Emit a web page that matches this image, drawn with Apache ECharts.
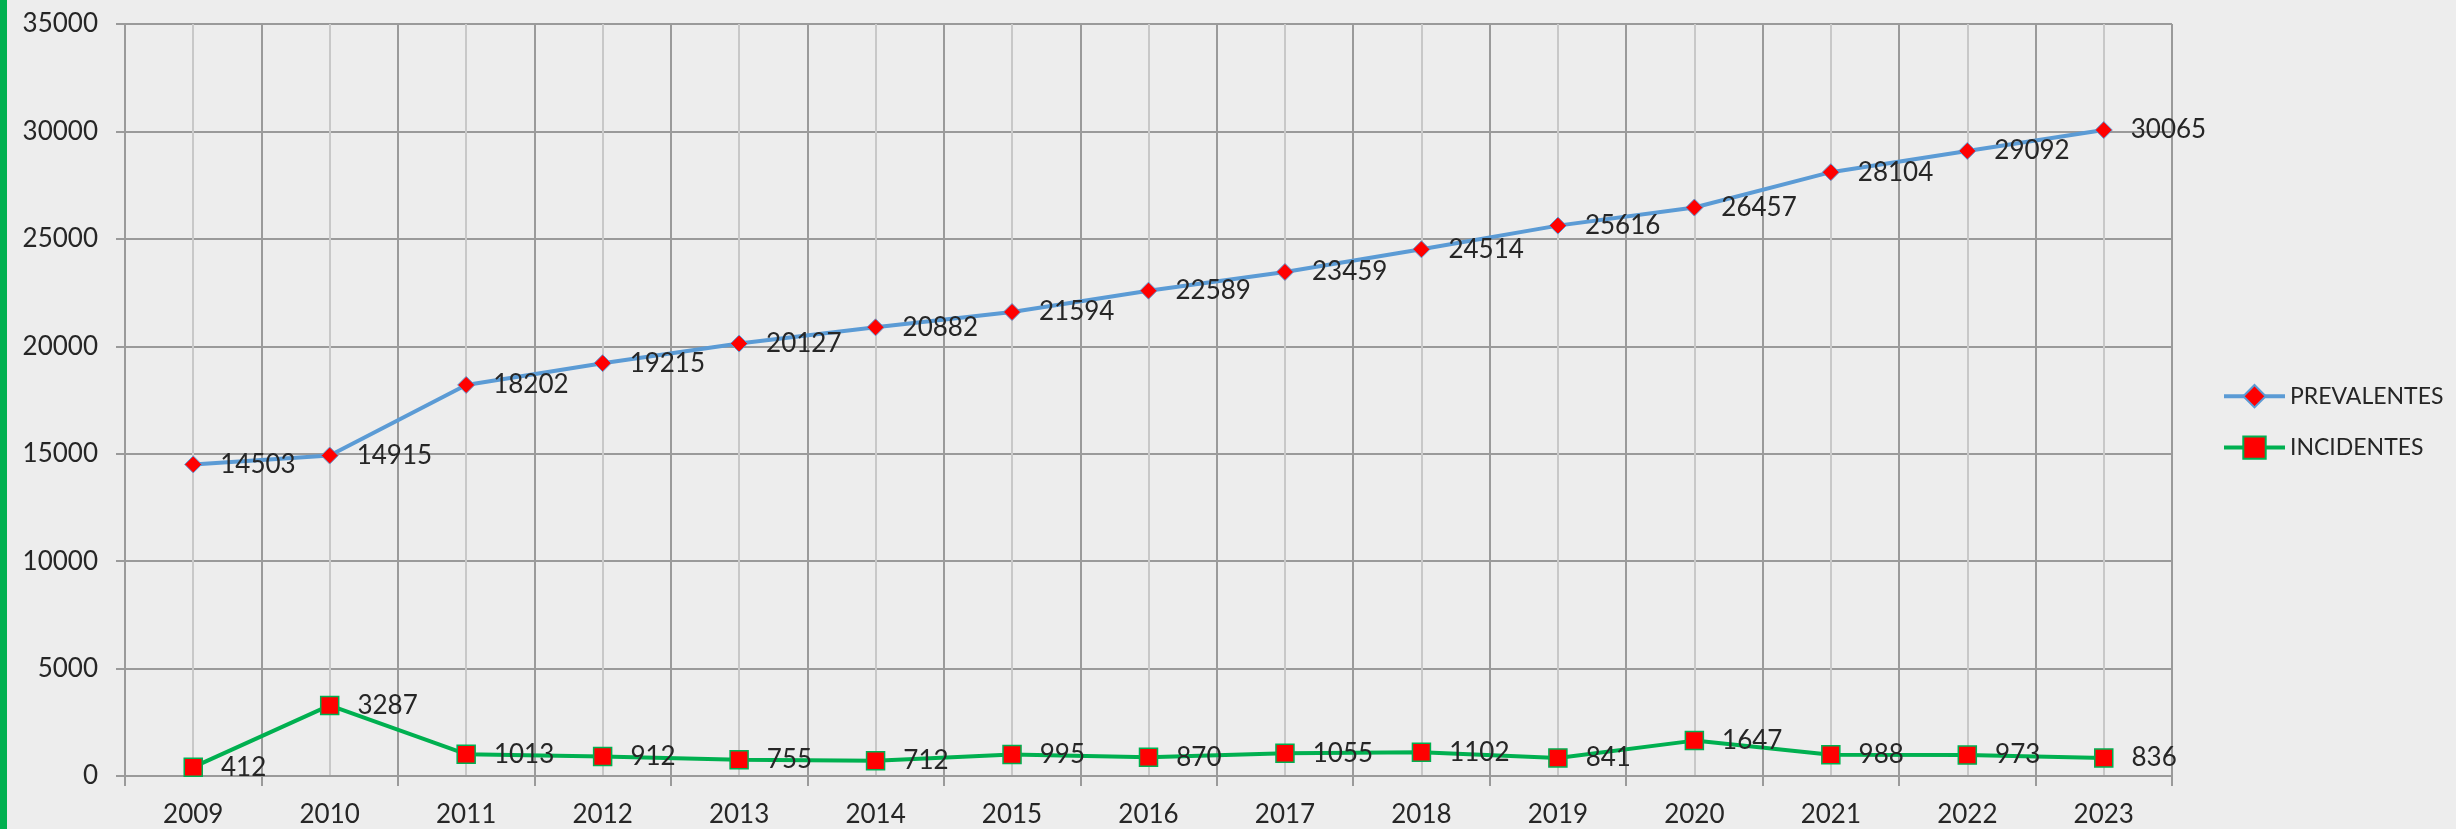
<!DOCTYPE html>
<html>
<head>
<meta charset="utf-8">
<script src="https://cdn.jsdelivr.net/npm/echarts@6/dist/echarts.min.js"></script>
<style>
  html, body { margin: 0; padding: 0; background: #ededed; }
  #stripe { position: absolute; left: 0; top: 0; width: 7px; height: 829px; background: #00b050; }
  #chart { width: 2456px; height: 829px; }
</style>
</head>
<body>
<div id="chart"></div>
<div id="stripe"></div>
<script>
// datos
const years = ['2009', '2010', '2011', '2012', '2013', '2014', '2015', '2016',
  '2017', '2018', '2019', '2020', '2021', '2022', '2023'];
const prevalentes = [14503, 14915, 18202, 19215, 20127, 20882, 21594, 22589,
  23459, 24514, 25616, 26457, 28104, 29092, 30065];
const incidentes = [412, 3287, 1013, 912, 755, 712, 995, 870,
  1055, 1102, 841, 1647, 988, 973, 836];

const chart = echarts.init(document.getElementById('chart'), null, { renderer: 'canvas' });

const font = 'Lato';
const textColor = '#262626';
const gridDark = '#9a9a9a';
const gridLight = '#c8c8c8';

const labelCfg = {
  show: true,
  position: 'right',
  distance: 18,
  color: textColor,
  fontFamily: font,
  fontSize: 26,
};

chart.setOption({
  backgroundColor: '#ededed',
  animation: false,
  grid: { left: 125, right: 284, top: 24, bottom: 53 },
  legend: {
    orient: 'vertical',
    left: 2217,
    top: 379,
    itemWidth: 61,
    itemHeight: 28,
    itemGap: 27,
    lineStyle: { width: 4 },
    textStyle: { color: textColor, fontFamily: font, fontSize: 23 },
    data: ['PREVALENTES', 'INCIDENTES'],
  },
  xAxis: [
    {
      type: 'category',
      data: years,
      boundaryGap: true,
      axisLine: { show: true, lineStyle: { color: gridDark, width: 2 } },
      axisTick: { show: true, length: 10, lineStyle: { color: gridDark, width: 2 } },
      axisLabel: { color: textColor, fontFamily: font, fontSize: 26, margin: 26 },
      splitLine: { show: false },
    },
    {
      // eje auxiliar solo para las lineas verticales de la rejilla
      type: 'value',
      min: 0,
      max: years.length,
      interval: 1,
      position: 'bottom',
      axisLine: { show: false },
      axisTick: { show: false },
      axisLabel: { show: false },
      splitLine: { show: true, lineStyle: { color: gridDark, width: 2 } },
      minorTick: { show: false, splitNumber: 2 },
      minorSplitLine: { show: true, lineStyle: { color: gridLight, width: 2 } },
    },
  ],
  yAxis: {
    type: 'value',
    min: 0,
    max: 35000,
    interval: 5000,
    axisLine: { show: false },
    axisTick: { show: true, length: 9, lineStyle: { color: gridDark, width: 2 } },
    axisLabel: {
      color: textColor, fontFamily: font, fontSize: 26, margin: 27,
      formatter: (v) => String(v),
    },
    splitLine: { show: true, lineStyle: { color: gridDark, width: 2 } },
  },
  series: [
    {
      name: 'PREVALENTES',
      type: 'line',
      xAxisIndex: 0,
      data: prevalentes,
      symbol: 'diamond',
      symbolSize: 17,
      lineStyle: { color: '#5b9bd5', width: 4 },
      itemStyle: { color: '#ff0000', borderColor: '#5b9bd5', borderWidth: 1 },
      label: labelCfg,
      z: 3,
    },
    {
      name: 'INCIDENTES',
      type: 'line',
      xAxisIndex: 0,
      data: incidentes,
      symbol: 'rect',
      symbolSize: 18,
      lineStyle: { color: '#00b050', width: 4 },
      itemStyle: { color: '#ff0000', borderColor: '#00b050', borderWidth: 1.5 },
      label: labelCfg,
      z: 3,
    },
  ],
});
</script>
</body>
</html>
